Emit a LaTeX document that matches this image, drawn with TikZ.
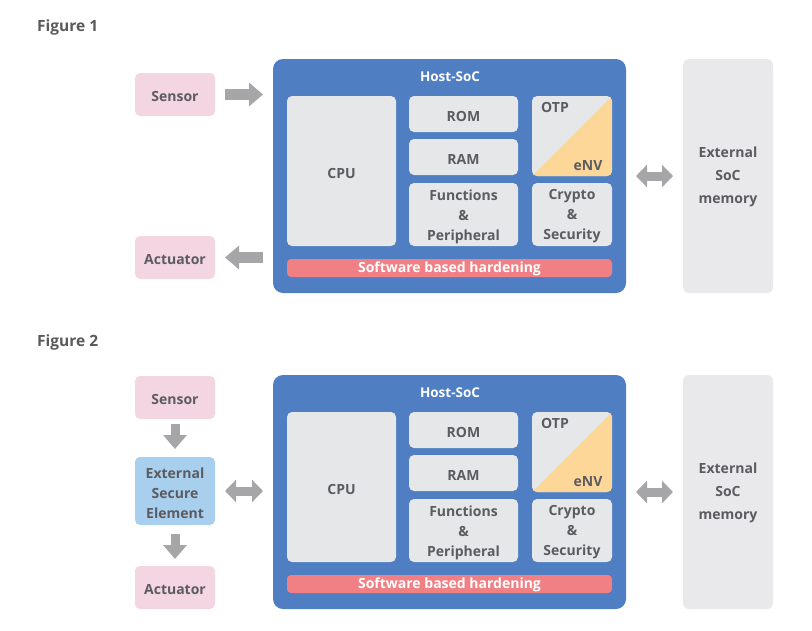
\documentclass[tikz,border=0pt]{standalone}
\usepackage{fontspec}
\setmainfont{Open Sans}
\usetikzlibrary{arrows.meta}
\definecolor{hostblue}{RGB}{79,126,195}
\definecolor{boxgray}{RGB}{230,231,233}
\definecolor{memgray}{RGB}{233,233,235}
\definecolor{pinkbox}{RGB}{243,214,226}
\definecolor{eseblue}{RGB}{168,207,237}
\definecolor{swred}{RGB}{241,128,133}
\definecolor{otporange}{RGB}{253,215,152}
\definecolor{arrowgray}{RGB}{166,166,168}
\definecolor{txtgray}{RGB}{92,92,96}
\definecolor{figgray}{RGB}{90,90,90}
\tikzset{
  box/.style={rectangle, rounded corners=5pt, inner sep=0pt, outer sep=0pt},
  txt/.style={inner sep=0pt, align=center, font=\fontsize{14}{20}\selectfont\bfseries, text=txtgray},
  inner/.style={box, fill=boxgray},
  pinkb/.style={box, fill=pinkbox},
  hostb/.style={rectangle, rounded corners=10pt, inner sep=0pt, outer sep=0pt, fill=hostblue,
    minimum width=353pt, minimum height=234pt},
  memb/.style={box, fill=memgray, rounded corners=6pt, minimum width=90pt, minimum height=234pt},
  memtxt/.style={txt, font=\fontsize{14}{23}\selectfont\bfseries},
  blk/.style={draw=arrowgray, line width=11pt, -{Triangle[length=14pt,width=23pt]}},
  dblk/.style={draw=arrowgray, line width=9pt, {Triangle[length=11pt,width=22pt]}-{Triangle[length=11pt,width=22pt]}},
  figlabel/.style={anchor=west, inner sep=0pt, font=\fontsize{15.5}{17}\selectfont\bfseries, text=figgray},
  hosttitle/.style={inner sep=0pt, font=\fontsize{13.5}{15}\selectfont\bfseries, text=white},
}
% \bx{name}{style}{x}{y}{w}{h}{text}
\newcommand\bx[7]{%
  \node[#2, minimum width=#5pt, minimum height=#6pt] (#1) at (#3pt,#4pt) {};
  \node[txt] (#1t) at ([yshift=-2pt]#1.center) {#7};
}
\newcommand\HostBlock[1]{%
  \node[hostb] (host#1) at (449.5pt,-176pt) {};
  \node[hosttitle] (title#1) at (450pt,-76.5pt) {Host-SoC};
  \bx{cpu#1}{inner}{341.5}{-171}{109}{150}{CPU}
  \bx{rom#1}{inner}{463.5}{-114}{109}{36}{ROM}
  \bx{ram#1}{inner}{463.5}{-157}{109}{36}{RAM}
  \bx{func#1}{inner}{463.5}{-214.5}{109}{63}{Functions\\\&\\Peripheral}
  \node[inner, minimum width=80pt, minimum height=80pt] (otp#1) at (572pt,-136pt) {};
  \begin{scope}
    \clip[rounded corners=5pt] (otp#1.south west) rectangle (otp#1.north east);
    \fill[otporange] (otp#1.south west) -- (otp#1.north east) -- (otp#1.south east) -- cycle;
  \end{scope}
  \node[txt] (otpt#1) at (555pt,-107pt) {OTP};
  \node[txt] (env#1) at (588pt,-166pt) {eNV};
  \bx{crypto#1}{inner}{572}{-214.5}{80}{63}{Crypto\\\&\\Security}
  \node[box, fill=swred, rounded corners=4pt, minimum width=325pt, minimum height=18pt] (sw#1) at (449.5pt,-268pt) {};
  \node[txt, text=white] (sw#1t) at ([yshift=-0.5pt]sw#1.center) {Software based hardening};
  \node[memb] (mem#1) at (728pt,-176pt) {};
  \node[memtxt] (mem#1t) at ([yshift=-1pt]mem#1.center) {External\\SoC\\memory};
}
\begin{document}
\begin{tikzpicture}[x=1pt,y=1pt]
\useasboundingbox (0,0) rectangle (812,-630);
% Figure 1
\node[figlabel] (fig1) at (37,-27.5) {Figure 1};
\HostBlock{A}
\bx{sensorA}{pinkb}{175}{-94.5}{80}{43}{Sensor}
\bx{actA}{pinkb}{175}{-257.5}{80}{43}{Actuator}
\draw[blk, shorten <=10pt, shorten >=10pt] (sensorA.east) -- (sensorA.east -| hostA.west);
\draw[blk, shorten <=10pt, shorten >=10pt] (actA.east -| hostA.west) -- (actA.east);
\draw[dblk, shorten <=10pt, shorten >=10pt] (hostA.east) -- (memA.west);
% Figure 2
\node[figlabel] (fig2) at (37,-342.5) {Figure 2};
\begin{scope}[yshift=-316pt]
\HostBlock{B}
\end{scope}
\bx{sensorB}{pinkb}{175}{-397.5}{80}{43}{Sensor}
\bx{eseB}{box, fill=eseblue}{175}{-491}{80}{68}{External\\Secure\\Element}
\bx{actB}{pinkb}{175}{-587.5}{80}{43}{Actuator}
\draw[blk, line width=9pt, shorten <=5pt, shorten >=8pt] (sensorB.south) -- (eseB.north);
\draw[blk, line width=9pt, shorten <=9pt, shorten >=7pt] (eseB.south) -- (actB.north);
\draw[dblk, shorten <=10pt, shorten >=10pt] (eseB.east) -- (eseB.east -| hostB.west);
\draw[dblk, shorten <=10pt, shorten >=10pt] (hostB.east) -- (memB.west);
\end{tikzpicture}
\end{document}
